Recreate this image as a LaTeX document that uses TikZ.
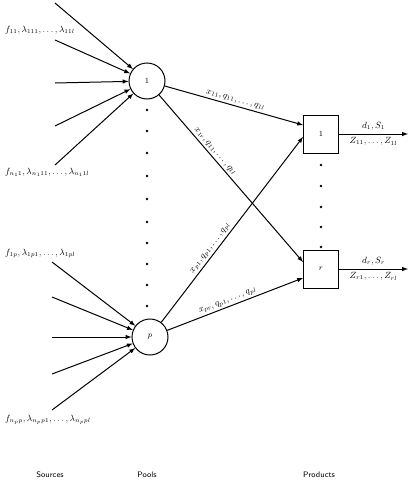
\documentclass[tikz,border=0pt]{standalone}
\usepackage{amsmath}
\usepackage{amssymb}
\usetikzlibrary{arrows}

\tikzset{
  pool/.style={circle,draw,line width=1pt,minimum size=36pt,inner sep=0pt,font=\footnotesize},
  product/.style={rectangle,draw,line width=1pt,minimum width=35pt,minimum height=38pt,inner sep=0pt,font=\footnotesize},
  flow/.style={line width=1pt,-latex},
  arclabel/.style={sloped,above,font=\small,inner sep=2pt},
  srclabel/.style={anchor=west,font=\small,inner sep=0pt},
  outlabel/.style={midway,font=\small},
  caption/.style={font=\sffamily\footnotesize}
}

\begin{document}
\begin{tikzpicture}[x=1pt,y=-1pt]
                \useasboundingbox (0,0) rectangle (414,482);

                \node[pool] (pool1) at (147,81) {$1$};
                \node[pool] (poolp) at (150,337) {$p$};
                \node[product] (prod1) at (321,134) {$1$};
                \node[product] (prodr) at (321,269) {$r$};

                % sources feeding the pools
                \foreach \y [count=\i] in {3,40,83,126,165}
                    \draw[flow] (55,\y) coordinate (sa\i) -- (pool1);
                \foreach \y [count=\i] in {262,297,337,374,410}
                    \draw[flow] (52,\y) coordinate (sb\i) -- (poolp);

                \node[srclabel] (la) at (5,30) {$f_{11},\lambda_{111},\ldots,\lambda_{11l}$};
                \node[srclabel] (lb) at (5,172) {$f_{n_11},\lambda_{n_111},\ldots,\lambda_{n_11l}$};
                \node[srclabel] (lc) at (5,253) {$f_{1p},\lambda_{1p1},\ldots,\lambda_{1pl}$};
                \node[srclabel] (ld) at (5,420) {$f_{n_pp},\lambda_{n_pp1},\ldots,\lambda_{n_ppl}$};

                % dots between pools and between products
                \foreach \y in {110,131,153,176,199,222,243,264,285,306}
                    \fill (147,\y) circle (1.3pt);
                \foreach \y in {165,186,207,227,247}
                    \fill (321,\y) circle (1.3pt);

                % pools to products
                \draw[flow] (pool1) -- ([yshift=9pt]prod1.west) node[arclabel,pos=0.5] {$x_{11},q_{11},\ldots,q_{1l}$};
                \draw[flow] (pool1) -- ([yshift=7pt]prodr.west) node[arclabel,pos=0.36] {$x_{1r},q_{11},\ldots,q_{1l}$};
                \draw[flow] (poolp) -- ([yshift=-3pt]prod1.west) node[arclabel,pos=0.38] {$x_{p1},q_{p1},\ldots,q_{pl}$};
                \draw[flow] (poolp) -- ([yshift=-9pt]prodr.west) node[arclabel,pos=0.46] {$x_{pr},q_{p1},\ldots,q_{pl}$};

                % products out
                \coordinate (out1) at (408,134);
                \coordinate (outr) at (408,269);
                \draw[flow] (prod1) -- (out1) node[outlabel,above] {$d_1,S_1$}
                    node[outlabel,below] {$Z_{11},\ldots,Z_{1l}$};
                \draw[flow] (prodr) -- (outr) node[outlabel,above] {$d_r,S_r$}
                    node[outlabel,below] {$Z_{r1},\ldots,Z_{rl}$};

                \node[caption] (src) at (50,475) {Sources};
                \node[caption] (pls) at (147,475) {Pools};
                \node[caption] (prd) at (319,475) {Products};
\end{tikzpicture}
\end{document}
